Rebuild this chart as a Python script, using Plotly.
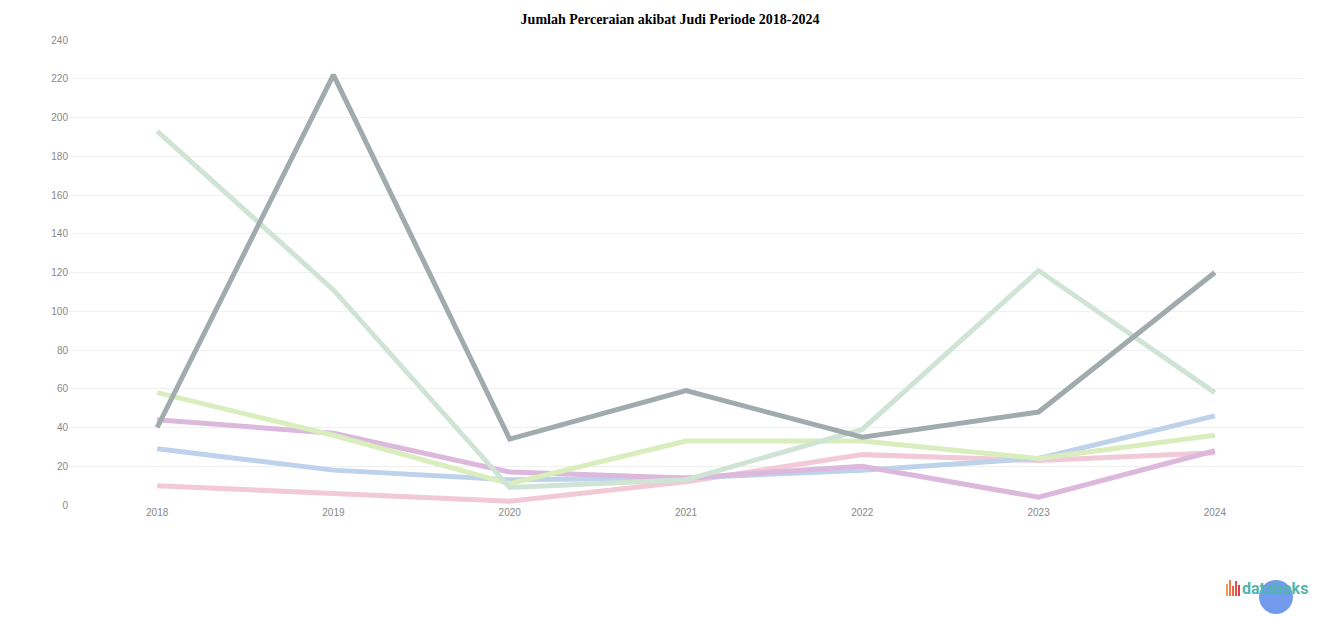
import plotly.graph_objects as go

years = ["2018", "2019", "2020", "2021", "2022", "2023", "2024"]

series_gray = [40, 222, 34, 59, 35, 48, 120]
series_mint = [193, 111, 9, 13, 39, 121, 58]
series_lime = [58, 36, 11, 33, 33, 24, 36]
series_purple = [44, 37, 17, 14, 20, 4, 28]
series_blue = [29, 18, 13, 14, 18, 24, 46]
series_pink = [10, 6, 2, 12, 26, 23, 27]

y_ticks = list(range(0, 241, 20))

lines = [
    (series_pink, "#f2c9d6"),
    (series_blue, "#bed2ec"),
    (series_purple, "#dcb8dc"),
    (series_lime, "#d9edbd"),
    (series_mint, "#cfe4d5"),
    (series_gray, "#a0abae"),
]

fig = go.Figure()
for vals, col in lines:
    fig.add_trace(go.Scatter(x=years, y=vals, mode="lines",
                             line=dict(color=col, width=5), showlegend=False))

fig.update_layout(
    width=1324, height=617,
    margin=dict(l=61, r=29, t=32, b=120),
    paper_bgcolor="white", plot_bgcolor="white",
    title=dict(text="<b>Jumlah Perceraian akibat Judi Periode 2018-2024</b>",
               x=0.5, xanchor="center", yref="container", y=0.99, yanchor="top",
               font=dict(family="Liberation Serif", size=14, color="black")),
    xaxis=dict(type="category", range=[-0.5, 6.5], showgrid=False, zeroline=False,
               showline=False, ticks="", tickfont=dict(size=10, color="#888888",
               family="Liberation Sans")),
    yaxis=dict(range=[0, 240], tickvals=y_ticks, showgrid=True, gridcolor="#f0f0f0",
               zeroline=False, showline=False, ticks="",
               tickfont=dict(size=10, color="#888888", family="Liberation Sans")),
)


def px(X):
    return (X - 69) / 1234


def py(Y):
    return (505 - Y) / 465


bar_specs = [(1226, 584, "#f39a52"), (1229, 580, "#ef7d4c"), (1232, 586, "#ea6448"),
             (1235, 581, "#e44f47"), (1238, 585, "#de3f47")]
for bx, top, col in bar_specs:
    fig.add_shape(type="rect", xref="paper", yref="paper",
                  x0=px(bx), x1=px(bx + 2), y0=py(596), y1=py(top),
                  fillcolor=col, line=dict(width=0))

fig.add_annotation(xref="paper", yref="paper", x=px(1310), y=py(588), xanchor="right",
                   yanchor="middle", showarrow=False, text="<b>databoks</b>",
                   font=dict(family="Roboto", size=16, color="#4fb6ad"))
fig.add_shape(type="circle", xref="paper", yref="paper",
              x0=px(1259), x1=px(1293), y0=py(614), y1=py(580),
              fillcolor="rgba(80,130,230,0.8)", line=dict(width=0))

fig.write_html("out.html")
